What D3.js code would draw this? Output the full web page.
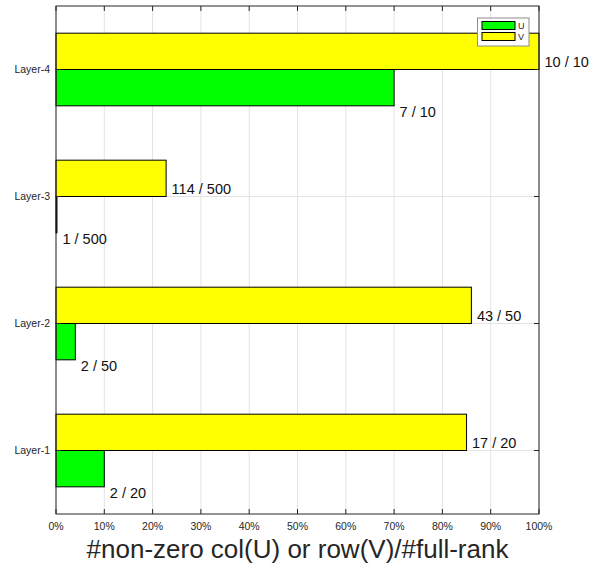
<!DOCTYPE html>
<html>
<head>
<meta charset="utf-8">
<script src="https://cdn.jsdelivr.net/npm/d3@7"></script>
<style>
  html, body { margin: 0; padding: 0; background: #fff; }
  svg { display: block; font-family: "Liberation Sans", Arial, Helvetica, sans-serif; }
</style>
</head>
<body>
<svg id="chart" width="594" height="571"></svg>
<script>
// Layers, from bottom to top of the chart
const layers = ["Layer-1", "Layer-2", "Layer-3", "Layer-4"];
// Non-zero columns of U and rows of V, and the full rank of each layer
const uNonZero = [2, 2, 1, 7];
const vNonZero = [17, 43, 114, 10];
const fullRank = [20, 50, 500, 10];
const xTicks = [0, 10, 20, 30, 40, 50, 60, 70, 80, 90, 100];
const seriesNames = ["U", "V"];
const seriesColors = ["#00ff00", "#ffff00"];

const svg = d3.select("#chart");
const margin = { left: 56, right: 55, top: 6, bottom: 57 };
const W = 594, H = 571;
const x = d3.scaleLinear().domain([0, 100]).range([margin.left, W - margin.right]);
// Numeric category axis: Layer-i sits at value i
const y = d3.scaleLinear().domain([0.5, layers.length + 0.5]).range([H - margin.bottom, margin.top]);
const barW = 0.286; // bar thickness in category units
const ink = "#262626";

// Grid
const grid = svg.append("g");
grid.selectAll("line.vx").data(xTicks).join("line")
  .attr("x1", d => x(d)).attr("x2", d => x(d))
  .attr("y1", y.range()[1]).attr("y2", y.range()[0])
  .attr("stroke", "#e3e3e3").attr("stroke-width", 1);
grid.selectAll("line.hy").data(layers).join("line")
  .attr("x1", x(0)).attr("x2", x(100))
  .attr("y1", (d, i) => y(i + 1)).attr("y2", (d, i) => y(i + 1))
  .attr("stroke", "#e3e3e3").attr("stroke-width", 1);

const rows = layers.map((name, i) => ({
  name, pos: i + 1,
  u: uNonZero[i] / fullRank[i] * 100,
  v: vNonZero[i] / fullRank[i] * 100,
  uLabel: `${uNonZero[i]} / ${fullRank[i]}`,
  vLabel: `${vNonZero[i]} / ${fullRank[i]}`
}));

// Bars: V sits above the category line, U below it
const bars = svg.append("g");
bars.selectAll("rect.v").data(rows).join("rect")
  .attr("x", x(0))
  .attr("y", d => y(d.pos + barW))
  .attr("width", d => x(d.v) - x(0))
  .attr("height", y(0) - y(barW))
  .attr("fill", seriesColors[1]).attr("stroke", "#000").attr("stroke-width", 1);
bars.selectAll("rect.u").data(rows).join("rect")
  .attr("x", x(0))
  .attr("y", d => y(d.pos))
  .attr("width", d => x(d.u) - x(0))
  .attr("height", y(0) - y(barW))
  .attr("fill", seriesColors[0]).attr("stroke", "#000").attr("stroke-width", 1);

// Value labels
const labels = svg.append("g").attr("font-size", 14.5).attr("fill", "#111");
labels.selectAll("text.v").data(rows).join("text")
  .attr("x", d => x(d.v) + 5.5)
  .attr("y", d => y(d.pos) - 8)
  .attr("dy", "0.35em")
  .text(d => d.vLabel);
labels.selectAll("text.u").data(rows).join("text")
  .attr("x", d => x(d.u) + 5.5)
  .attr("y", d => y(d.pos - barW) + 6.5)
  .attr("dy", "0.35em")
  .text(d => d.uLabel);

// Axes box with inward ticks on all four sides
const box = svg.append("g").attr("stroke", ink).attr("stroke-width", 1).attr("fill", "none");
box.append("rect")
  .attr("x", x(0)).attr("y", y.range()[1])
  .attr("width", x(100) - x(0)).attr("height", y.range()[0] - y.range()[1]);
const tk = 5;
xTicks.forEach(t => {
  box.append("line").attr("x1", x(t)).attr("x2", x(t)).attr("y1", y.range()[0]).attr("y2", y.range()[0] - tk);
  box.append("line").attr("x1", x(t)).attr("x2", x(t)).attr("y1", y.range()[1]).attr("y2", y.range()[1] + tk);
});
rows.forEach(d => {
  box.append("line").attr("x1", x(0)).attr("x2", x(0) + tk).attr("y1", y(d.pos)).attr("y2", y(d.pos));
  box.append("line").attr("x1", x(100)).attr("x2", x(100) - tk).attr("y1", y(d.pos)).attr("y2", y(d.pos));
});

// Tick labels
const tl = svg.append("g").attr("font-size", 10.5).attr("fill", ink);
tl.selectAll("text.xt").data(xTicks).join("text")
  .attr("x", d => x(d)).attr("y", y.range()[0] + 12).attr("dy", "0.35em")
  .attr("text-anchor", "middle").text(d => d + "%");
tl.selectAll("text.yt").data(rows).join("text")
  .attr("x", x(0) - 6).attr("y", d => y(d.pos)).attr("dy", "0.35em")
  .attr("text-anchor", "end").text(d => d.name);

// Axis title
svg.append("text")
  .attr("x", (x(0) + x(100)) / 2).attr("y", 558)
  .attr("text-anchor", "middle").attr("font-size", 26).attr("fill", ink)
  .text("#non-zero col(U) or row(V)/#full-rank");

// Legend
const lg = svg.append("g").attr("transform", "translate(477.5,18)");
lg.append("rect").attr("width", 51.5).attr("height", 28)
  .attr("fill", "#fff").attr("stroke", "#8c8c8c").attr("stroke-width", 1);
seriesNames.forEach((n, i) => {
  lg.append("rect").attr("x", 4.5).attr("y", 3.5 + i * 11).attr("width", 33).attr("height", 8)
    .attr("fill", seriesColors[i]).attr("stroke", "#000").attr("stroke-width", 1);
  lg.append("text").attr("x", 40.5).attr("y", 7.5 + i * 11).attr("dy", "0.35em")
    .attr("font-size", 9).attr("fill", ink).text(n);
});
</script>
</body>
</html>
